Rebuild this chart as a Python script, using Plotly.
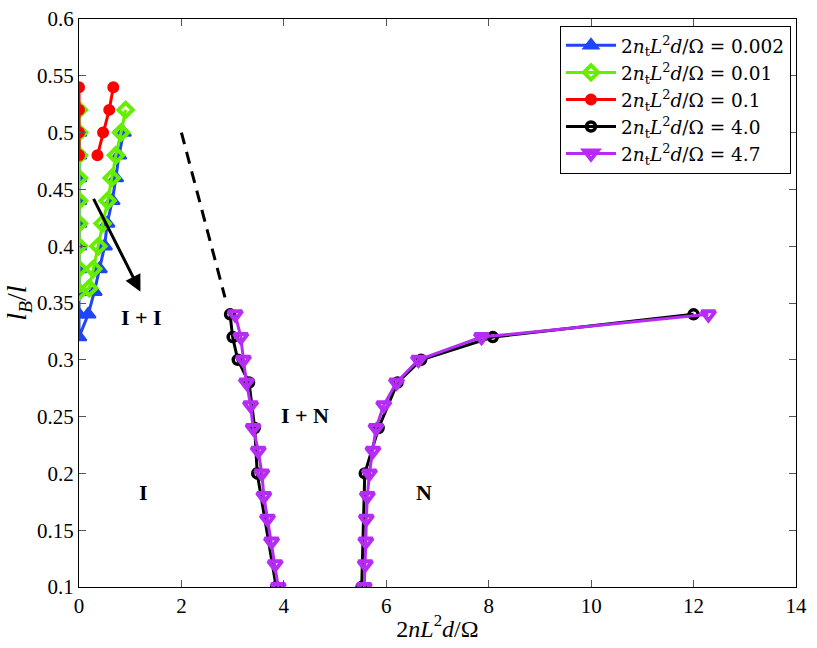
import plotly.graph_objects as go

# ── data ────────────────────────────────────────────────────
# 2 n_t L^2 d / Omega = 0.002 (blue, up triangles): left branch then right branch
x_0002 = [0, 0, 0, 0, 0, 0, 0, 0, 0, 0, 0.18, 0.3, 0.4, 0.5, 0.55, 0.65, 0.72, 0.78, 0.87]
y_0002 = [0.50, 0.48, 0.46, 0.44, 0.42, 0.40, 0.38, 0.36, 0.34, 0.32,
          0.34, 0.36, 0.38, 0.40, 0.42, 0.44, 0.46, 0.48, 0.50]

# 0.01 (green, diamonds)
x_001 = [0, 0, 0, 0, 0, 0, 0, 0, 0, 0.2, 0.28, 0.38, 0.46, 0.56, 0.64, 0.72, 0.82, 0.91]
y_001 = [0.52, 0.50, 0.48, 0.46, 0.44, 0.42, 0.40, 0.38, 0.36,
         0.363, 0.38, 0.40, 0.42, 0.44, 0.46, 0.48, 0.50, 0.52]

# 0.1 (red, filled circles) - two separate branches
x_01 = [0, 0, 0, 0, None, 0.36, 0.47, 0.59, 0.67]
y_01 = [0.54, 0.52, 0.50, 0.48, None, 0.48, 0.50, 0.52, 0.54]

# 4.0 (black, open circles)
x_40 = [2.95, 3.0, 3.1, 3.32, 3.43, 3.48, 3.85, None,
        5.52, 5.58, 5.85, 6.22, 6.68, 8.08, 12.0]
y_40 = [0.34, 0.32, 0.30, 0.28, 0.24, 0.20, 0.10, None,
        0.10, 0.20, 0.24, 0.28, 0.30, 0.32, 0.34]

# 4.7 (purple, down triangles)
x_47 = [3.05, 3.16, 3.21, 3.27, 3.35, 3.40, 3.50, 3.57, 3.61, 3.68, 3.76, 3.83, 3.89, None,
        5.57, 5.59, 5.60, 5.61, 5.63, 5.67, 5.74, 5.80, 5.95, 6.20, 6.63, 7.86, 12.29]
y_47 = [0.34, 0.32, 0.30, 0.28, 0.26, 0.24, 0.22, 0.20, 0.18, 0.16, 0.14, 0.12, 0.10, None,
        0.10, 0.12, 0.14, 0.16, 0.18, 0.20, 0.22, 0.24, 0.26, 0.28, 0.30, 0.32, 0.34]

# dashed guide line and arrow
dash_x = [2.0, 2.85]
dash_y = [0.50, 0.355]
arrow_tail = (0.27, 0.443)
arrow_head = (1.2, 0.36)

# region labels
region_text = ["I + I", "I + N", "I", "N"]
region_x = [1.23, 4.41, 1.25, 6.74]
region_y = [0.337, 0.251, 0.183, 0.183]

x_ticks = [0, 2, 4, 6, 8, 10, 12, 14]
y_ticks = [0.1, 0.15, 0.2, 0.25, 0.3, 0.35, 0.4, 0.45, 0.5, 0.55, 0.6]

FONT = "Liberation Serif"
LBL = "2<i>n</i><sub>t</sub><i>L</i><sup>2</sup><i>d</i>/Ω = "

# (x, y, label value, colour, symbol, size, marker edge width)
series = [
    (x_0002, y_0002, "0.002", "#1f45f5", "triangle-up", 13, 2),
    (x_001, y_001, "0.01", "#66ee00", "diamond-open", 11, 4),
    (x_01, y_01, "0.1", "#ff0000", "circle", 10, 2),
    (x_40, y_40, "4.0", "#000000", "circle-open", 9, 3.5),
    (x_47, y_47, "4.7", "#b52cf5", "triangle-down-open", 12, 4),
]

fig = go.Figure()

for xs, ys, val, col, sym, size, edge in series:
    fig.add_trace(go.Scatter(
        x=xs, y=ys, mode="lines+markers",
        name=LBL + val,
        line=dict(color=col, width=3),
        marker=dict(symbol=sym, size=size, color=col,
                    line=dict(color=col, width=edge)),
    ))

fig.add_trace(go.Scatter(
    x=dash_x, y=dash_y, mode="lines", showlegend=False,
    line=dict(color="black", width=3, dash="12px,8px"),
))

fig.add_annotation(
    x=arrow_head[0], y=arrow_head[1], ax=arrow_tail[0], ay=arrow_tail[1],
    xref="x", yref="y", axref="x", ayref="y",
    text="", showarrow=True, arrowhead=2, arrowsize=1.1,
    arrowwidth=3, arrowcolor="black",
)

for t, xx, yy in zip(region_text, region_x, region_y):
    fig.add_annotation(x=xx, y=yy, text=f"<b>{t}</b>", showarrow=False,
                       font=dict(family=FONT, size=22, color="black"))

axis_common = dict(
    showgrid=False, zeroline=False, showline=True, linecolor="black",
    linewidth=1, mirror="ticks", ticks="inside", ticklen=7,
    tickcolor="#555555", automargin=False,
    tickfont=dict(family=FONT, size=21, color="black"),
)

fig.update_layout(
    width=817, height=648,
    margin=dict(l=79, r=21, t=19, b=61),
    plot_bgcolor="white", paper_bgcolor="white",
    font=dict(family=FONT, color="black"),
    xaxis=dict(range=[0, 14], tickvals=x_ticks, **axis_common,
               title=dict(text="2<i>nL</i><sup>2</sup><i>d</i>/Ω",
                          font=dict(family=FONT, size=24), standoff=2)),
    yaxis=dict(range=[0.1, 0.6], tickvals=y_ticks,
               ticktext=[f"{v:g}" for v in y_ticks], **axis_common,
               title=dict(text="<i>l<sub>B</sub></i>/<i>l</i>",
                          font=dict(family=FONT, size=28), standoff=2)),
    legend=dict(x=0.993, y=0.988, xanchor="right", yanchor="top",
                bgcolor="white", bordercolor="black", borderwidth=1,
                font=dict(family="DejaVu Serif", size=18.5), tracegroupgap=0,
                itemwidth=50),
)

# the page's default 8px body margin would shift the whole figure
fig.write_html("out.html", config={"displayModeBar": False},
               post_script="document.body.style.margin='0';")
